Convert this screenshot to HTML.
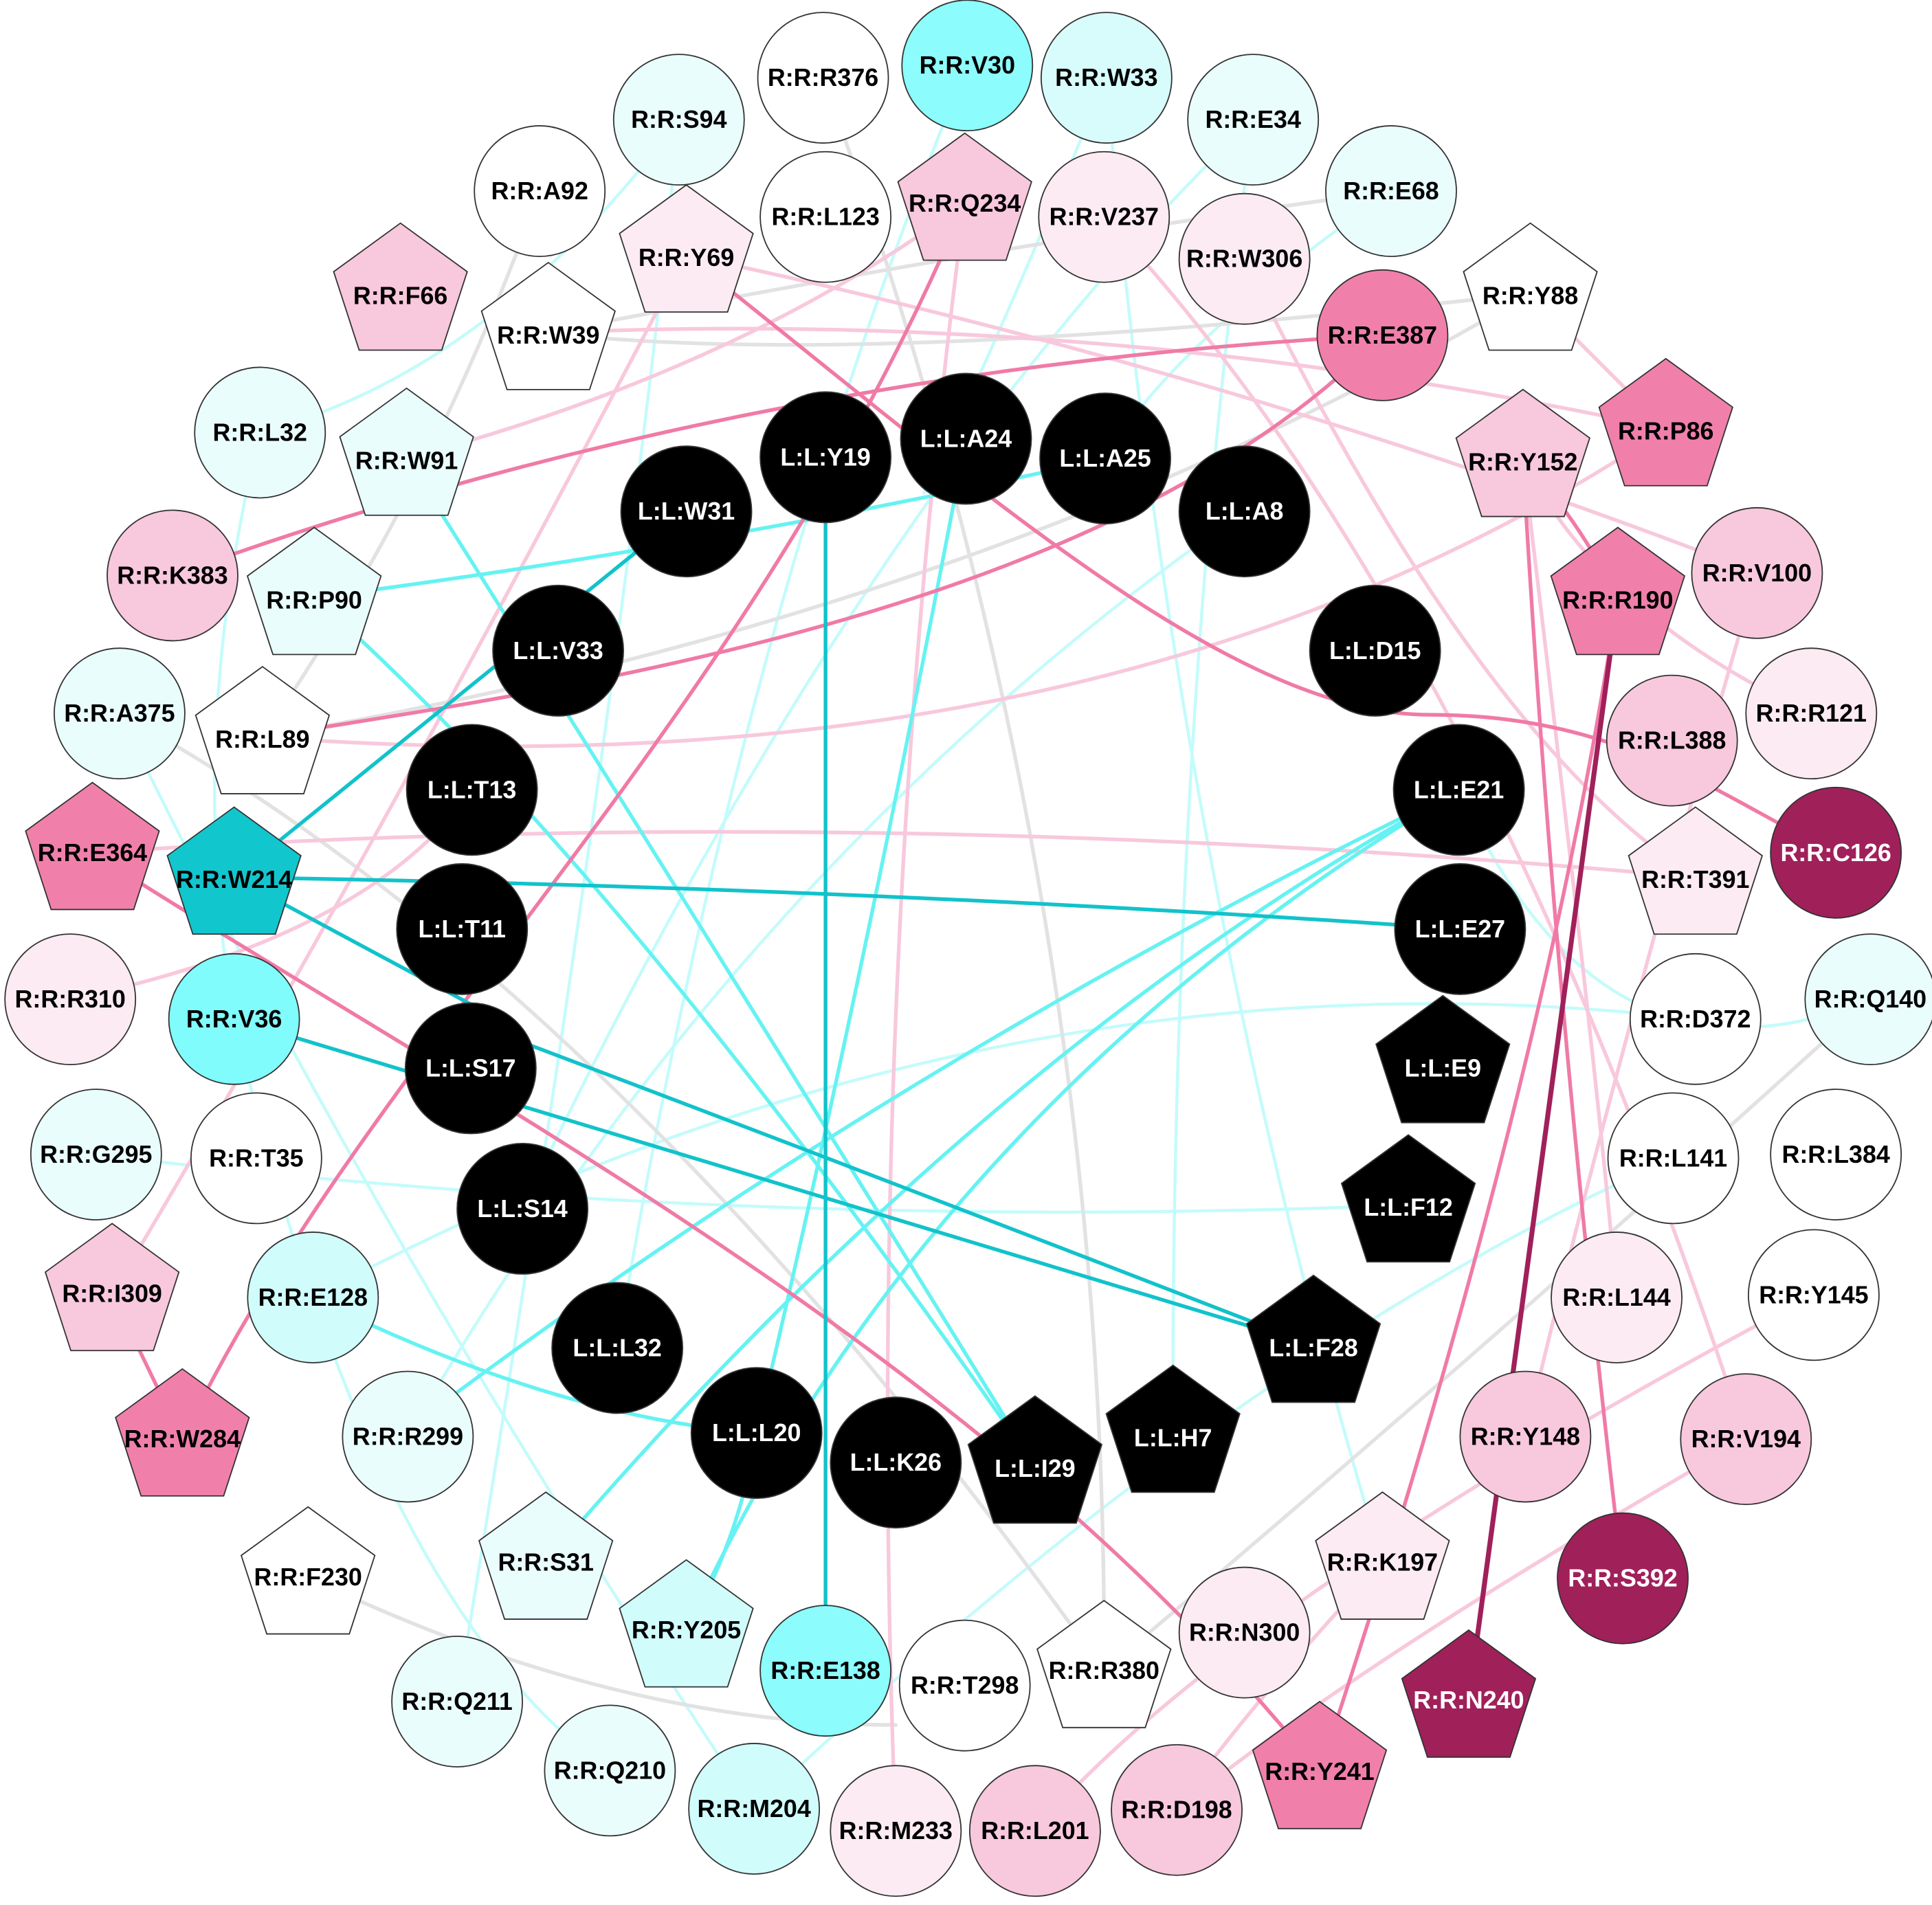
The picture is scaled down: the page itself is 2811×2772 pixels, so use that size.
<!DOCTYPE html>
<html><head><meta charset="utf-8"><style>
html,body{margin:0;padding:0;background:#fff;}
svg{display:block;}
text{font-family:"Liberation Sans",Arial,sans-serif;font-weight:bold;font-size:20px;text-anchor:middle;dominant-baseline:central;}
</style></head><body>
<svg width="2811" height="2772" viewBox="0 0 1568 1546" xmlns="http://www.w3.org/2000/svg">
<g fill="none" stroke-linecap="round">
<!-- light cyan -->
<g stroke="#c4fbfb" stroke-width="2.5">
<path d="M898 63 Q800 300 750 400"/>
<path d="M1017 97 Q950 600 952 1165"/>
<path d="M1129 155 Q950 280 897 372"/>
<path d="M551 97 Q400 300 211 351"/>
<path d="M211 351 Q150 600 190 827"/>
<path d="M785 53 Q600 500 501 1094"/>
<path d="M551 97 Q500 600 371 1381"/>
<path d="M898 63 Q950 700 1122 1268"/>
<path d="M1518 811 Q1300 900 1184 641"/>
<path d="M78 937 Q600 1000 1143 978"/>
<path d="M1357 940 Q1000 1100 612 1468"/>
<path d="M495 1437 Q300 1300 190 827"/>
<path d="M331 1166 Q600 700 1010 415"/>
<path d="M1376 827 Q800 760 254 1053"/>
<path d="M97 579 Q300 1000 612 1468"/>
<path d="M1017 97 Q700 400 424 981"/>
</g>
<!-- gray -->
<g stroke="#e2e2e2" stroke-width="3">
<path d="M668 63 Q900 700 896 1356"/>
<path d="M438 155 Q350 400 213 598"/>
<path d="M1242 238 Q700 300 445 270"/>
<path d="M1129 155 Q800 200 445 270"/>
<path d="M1518 811 Q1200 1100 896 1356"/>
<path d="M250 1280 Q500 1400 727 1400"/>
<path d="M97 579 Q500 800 896 1356"/>
<path d="M1242 238 Q800 500 213 598"/>
</g>
<!-- light pink -->
<g stroke="#f8c8dc" stroke-width="3">
<path d="M557 207 Q1000 300 1426 465"/>
<path d="M783 165 Q600 300 330 372"/>
<path d="M783 165 Q700 800 727 1486"/>
<path d="M896 176 Q1200 500 1417 1168"/>
<path d="M1236 373 Q1300 900 1312 1053"/>
<path d="M1426 465 Q1300 900 1238 1166"/>
<path d="M1472 1051 Q1000 1300 840 1486"/>
<path d="M1417 1168 Q1100 1350 955 1469"/>
<path d="M1122 1268 Q1000 1400 955 1469"/>
<path d="M1352 348 Q900 650 213 598"/>
<path d="M445 270 Q900 250 1352 348"/>
<path d="M1376 712 Q700 650 75 692"/>
<path d="M1010 210 Q1200 600 1376 712"/>
<path d="M1242 238 L1352 348"/>
<path d="M91 1050 Q300 700 557 207"/>
<path d="M57 811 Q300 760 383 641"/>
<path d="M1470 579 Q1300 500 1236 373"/>
</g>
<!-- medium cyan -->
<g stroke="#66f2f2" stroke-width="3">
<path d="M897 372 Q600 440 255 485"/>
<path d="M784 356 Q700 800 614 1163"/>
<path d="M330 372 Q600 800 840 1190"/>
<path d="M255 485 Q500 700 840 1190"/>
<path d="M1184 641 Q800 850 443 1268"/>
<path d="M1184 641 Q750 900 557 1323"/>
<path d="M1184 641 Q750 850 371 1130"/>
<path d="M254 1053 Q450 1150 614 1163"/>
<path d="M557 1323 Q600 1250 614 1163"/>
</g>
<!-- pink -->
<g stroke="#f07aa6" stroke-width="3">
<path d="M1122 272 Q600 300 140 467"/>
<path d="M1122 272 C 900 500 450 560 213 598"/>
<path d="M557 207 C 800 400 1000 580 1160 580 S 1400 650 1490 692"/>
<path d="M148 1168 C 300 850 600 600 783 165"/>
<path d="M75 692 C 400 900 800 1100 1071 1438"/>
<path d="M1236 373 Q1260 800 1317 1281"/>
<path d="M1236 373 Q1280 420 1313 485"/>
<path d="M1313 485 Q1250 900 1071 1438"/>
<path d="M91 1050 L148 1168"/>
</g>
<path d="M1313 485 L1192 1380" stroke="#a0205a" stroke-width="4"/>
<!-- dark cyan -->
<g stroke="#12c2ca" stroke-width="3">
<path d="M670 371 L670 1356"/>
<path d="M190 712 Q700 720 1185 754"/>
<path d="M190 712 L557 415"/>
<path d="M190 712 L382 815"/>
<path d="M190 827 Q600 950 1066 1092"/>
<path d="M382 830 Q700 950 1066 1092"/>
</g>
</g>

<g stroke="#333" stroke-width="1">
<!-- circles -->
<circle cx="785" cy="53" r="53" fill="#8cfcfc"/>
<circle cx="668" cy="63" r="53" fill="#fff"/>
<circle cx="898" cy="63" r="53" fill="#d8fbfb"/>
<circle cx="551" cy="97" r="53" fill="#eafdfd"/>
<circle cx="1017" cy="97" r="53" fill="#eafdfd"/>
<circle cx="438" cy="155" r="53" fill="#fff"/>
<circle cx="670" cy="176" r="53" fill="#fff"/>
<circle cx="896" cy="176" r="53" fill="#fcebf2"/>
<circle cx="1129" cy="155" r="53" fill="#eafdfd"/>
<circle cx="1010" cy="210" r="53" fill="#fcebf2"/>
<circle cx="1122" cy="272" r="53" fill="#f080aa"/>
<circle cx="211" cy="351" r="53" fill="#eafdfd"/>
<circle cx="140" cy="467" r="53" fill="#f8c8dc"/>
<circle cx="1426" cy="465" r="53" fill="#f8c8dc"/>
<circle cx="97" cy="579" r="53" fill="#eafdfd"/>
<circle cx="1470" cy="579" r="53" fill="#fcebf2"/>
<circle cx="1357" cy="601" r="53" fill="#f8c8dc"/>
<circle cx="1490" cy="692" r="53" fill="#a0205a"/>
<circle cx="57" cy="811" r="53" fill="#fcebf2"/>
<circle cx="190" cy="827" r="53" fill="#80fcfc"/>
<circle cx="1376" cy="827" r="53" fill="#fff"/>
<circle cx="1518" cy="811" r="53" fill="#eafdfd"/>
<circle cx="78" cy="937" r="53" fill="#eafdfd"/>
<circle cx="208" cy="940" r="53" fill="#fff"/>
<circle cx="1358" cy="940" r="53" fill="#fff"/>
<circle cx="1490" cy="937" r="53" fill="#fff"/>
<circle cx="254" cy="1053" r="53" fill="#d0fcfc"/>
<circle cx="1312" cy="1053" r="53" fill="#fcebf2"/>
<circle cx="1472" cy="1051" r="53" fill="#fff"/>
<circle cx="331" cy="1166" r="53" fill="#eafdfd"/>
<circle cx="1238" cy="1166" r="53" fill="#f8c8dc"/>
<circle cx="1417" cy="1168" r="53" fill="#f8c8dc"/>
<circle cx="1317" cy="1281" r="53" fill="#a0205a"/>
<circle cx="1010" cy="1325" r="53" fill="#fcebf2"/>
<circle cx="371" cy="1381" r="53" fill="#eafdfd"/>
<circle cx="670" cy="1356" r="53" fill="#8cfcfc"/>
<circle cx="783" cy="1368" r="53" fill="#fff"/>
<circle cx="495" cy="1437" r="53" fill="#eafdfd"/>
<circle cx="612" cy="1468" r="53" fill="#d0fcfc"/>
<circle cx="727" cy="1486" r="53" fill="#fcebf2"/>
<circle cx="840" cy="1486" r="53" fill="#f8c8dc"/>
<circle cx="955" cy="1469" r="53" fill="#f8c8dc"/>
<!-- ligand circles -->
<g fill="#000">
<circle cx="670" cy="371" r="53"/><circle cx="784" cy="356" r="53"/><circle cx="897" cy="372" r="53"/>
<circle cx="557" cy="415" r="53"/><circle cx="1010" cy="415" r="53"/><circle cx="453" cy="528" r="53"/>
<circle cx="1116" cy="528" r="53"/><circle cx="383" cy="641" r="53"/><circle cx="1184" cy="641" r="53"/>
<circle cx="375" cy="754" r="53"/><circle cx="1185" cy="754" r="53"/><circle cx="382" cy="867" r="53"/>
<circle cx="424" cy="981" r="53"/><circle cx="501" cy="1094" r="53"/><circle cx="614" cy="1163" r="53"/>
<circle cx="727" cy="1187" r="53"/>
</g>
</g>

<g stroke="#333" stroke-width="1">
<!-- pentagon r=57: points offsets (0,-57)(54.2,-17.6)(33.5,46.1)(-33.5,46.1)(-54.2,-17.6) -->
<polygon fill="#f8c8dc" points="783,108 837.2,147.4 816.5,211.1 749.5,211.1 728.8,147.4"/>
<polygon fill="#fcebf2" points="557,150 611.2,189.4 590.5,253.1 523.5,253.1 502.8,189.4"/>
<polygon fill="#f8c8dc" points="325,181 379.2,220.4 358.5,284.1 291.5,284.1 270.8,220.4"/>
<polygon fill="#fff" points="445,213 499.2,252.4 478.5,316.1 411.5,316.1 390.8,252.4"/>
<polygon fill="#fff" points="1242,181 1296.2,220.4 1275.5,284.1 1208.5,284.1 1187.8,220.4"/>
<polygon fill="#f080aa" points="1352,291 1406.2,330.4 1385.5,394.1 1318.5,394.1 1297.8,330.4"/>
<polygon fill="#eafdfd" points="330,315 384.2,354.4 363.5,418.1 296.5,418.1 275.8,354.4"/>
<polygon fill="#f8c8dc" points="1236,316 1290.2,355.4 1269.5,419.1 1202.5,419.1 1181.8,355.4"/>
<polygon fill="#eafdfd" points="255,428 309.2,467.4 288.5,531.1 221.5,531.1 200.8,467.4"/>
<polygon fill="#f080aa" points="1313,428 1367.2,467.4 1346.5,531.1 1279.5,531.1 1258.8,467.4"/>
<polygon fill="#fff" points="213,541 267.2,580.4 246.5,644.1 179.5,644.1 158.8,580.4"/>
<polygon fill="#f080aa" points="75,635 129.2,674.4 108.5,738.1 41.5,738.1 20.8,674.4"/>
<polygon fill="#12c6ce" points="190,655 244.2,694.4 223.5,758.1 156.5,758.1 135.8,694.4"/>
<polygon fill="#fcebf2" points="1376,655 1430.2,694.4 1409.5,758.1 1342.5,758.1 1321.8,694.4"/>
<polygon fill="#000" points="1171,808 1225.2,847.4 1204.5,911.1 1137.5,911.1 1116.8,847.4"/>
<polygon fill="#000" points="1143,921 1197.2,960.4 1176.5,1024.1 1109.5,1024.1 1088.8,960.4"/>
<polygon fill="#f8c8dc" points="91,993 145.2,1032.4 124.5,1096.1 57.5,1096.1 36.8,1032.4"/>
<polygon fill="#000" points="1066,1035 1120.2,1074.4 1099.5,1138.1 1032.5,1138.1 1011.8,1074.4"/>
<polygon fill="#000" points="952,1108 1006.2,1147.4 985.5,1211.1 918.5,1211.1 897.8,1147.4"/>
<polygon fill="#000" points="840,1133 894.2,1172.4 873.5,1236.1 806.5,1236.1 785.8,1172.4"/>
<polygon fill="#f080aa" points="148,1111 202.2,1150.4 181.5,1214.1 114.5,1214.1 93.8,1150.4"/>
<polygon fill="#fff" points="250,1223 304.2,1262.4 283.5,1326.1 216.5,1326.1 195.8,1262.4"/>
<polygon fill="#eafdfd" points="443,1211 497.2,1250.4 476.5,1314.1 409.5,1314.1 388.8,1250.4"/>
<polygon fill="#fcebf2" points="1122,1211 1176.2,1250.4 1155.5,1314.1 1088.5,1314.1 1067.8,1250.4"/>
<polygon fill="#d0fcfc" points="557,1266 611.2,1305.4 590.5,1369.1 523.5,1369.1 502.8,1305.4"/>
<polygon fill="#fff" points="896,1299 950.2,1338.4 929.5,1402.1 862.5,1402.1 841.8,1338.4"/>
<polygon fill="#a0205a" points="1192,1323 1246.2,1362.4 1225.5,1426.1 1158.5,1426.1 1137.8,1362.4"/>
<polygon fill="#f080aa" points="1071,1381 1125.2,1420.4 1104.5,1484.1 1037.5,1484.1 1016.8,1420.4"/>
</g>

<g fill="#000">
<text x="785" y="53">R:R:V30</text><text x="668" y="63">R:R:R376</text><text x="898" y="63">R:R:W33</text>
<text x="551" y="97">R:R:S94</text><text x="1017" y="97">R:R:E34</text><text x="438" y="155">R:R:A92</text>
<text x="670" y="176">R:R:L123</text><text x="896" y="176">R:R:V237</text><text x="1129" y="155">R:R:E68</text>
<text x="1010" y="210">R:R:W306</text><text x="1122" y="272">R:R:E387</text><text x="211" y="351">R:R:L32</text>
<text x="140" y="467">R:R:K383</text><text x="1426" y="465">R:R:V100</text><text x="97" y="579">R:R:A375</text>
<text x="1470" y="579">R:R:R121</text><text x="1357" y="601">R:R:L388</text>
<text x="57" y="811">R:R:R310</text><text x="190" y="827">R:R:V36</text><text x="1376" y="827">R:R:D372</text>
<text x="1518" y="811">R:R:Q140</text><text x="78" y="937">R:R:G295</text><text x="208" y="940">R:R:T35</text>
<text x="1358" y="940">R:R:L141</text><text x="1490" y="937">R:R:L384</text><text x="254" y="1053">R:R:E128</text>
<text x="1312" y="1053">R:R:L144</text><text x="1472" y="1051">R:R:Y145</text><text x="331" y="1166">R:R:R299</text>
<text x="1238" y="1166">R:R:Y148</text><text x="1417" y="1168">R:R:V194</text>
<text x="1010" y="1325">R:R:N300</text><text x="371" y="1381">R:R:Q211</text><text x="670" y="1356">R:R:E138</text>
<text x="783" y="1368">R:R:T298</text><text x="495" y="1437">R:R:Q210</text><text x="612" y="1468">R:R:M204</text>
<text x="727" y="1486">R:R:M233</text><text x="840" y="1486">R:R:L201</text><text x="955" y="1469">R:R:D198</text>
<text x="783" y="165">R:R:Q234</text><text x="557" y="209">R:R:Y69</text><text x="325" y="240">R:R:F66</text>
<text x="445" y="272">R:R:W39</text><text x="1242" y="240">R:R:Y88</text><text x="1352" y="350">R:R:P86</text>
<text x="330" y="374">R:R:W91</text><text x="1236" y="375">R:R:Y152</text><text x="255" y="487">R:R:P90</text>
<text x="1313" y="487">R:R:R190</text><text x="213" y="600">R:R:L89</text><text x="75" y="692">R:R:E364</text>
<text x="190" y="714">R:R:W214</text><text x="1376" y="714">R:R:T391</text><text x="91" y="1050">R:R:I309</text>
<text x="148" y="1168">R:R:W284</text><text x="250" y="1280">R:R:F230</text><text x="443" y="1268">R:R:S31</text>
<text x="1122" y="1268">R:R:K197</text><text x="557" y="1323">R:R:Y205</text><text x="896" y="1356">R:R:R380</text>
<text x="1071" y="1438">R:R:Y241</text>
</g>
<g fill="#fff">
<text x="1490" y="692">R:R:C126</text><text x="1317" y="1281">R:R:S392</text><text x="1192" y="1380">R:R:N240</text>
<text x="670" y="371">L:L:Y19</text><text x="784" y="356">L:L:A24</text><text x="897" y="372">L:L:A25</text>
<text x="557" y="415">L:L:W31</text><text x="1010" y="415">L:L:A8</text><text x="453" y="528">L:L:V33</text>
<text x="1116" y="528">L:L:D15</text><text x="383" y="641">L:L:T13</text><text x="1184" y="641">L:L:E21</text>
<text x="375" y="754">L:L:T11</text><text x="1185" y="754">L:L:E27</text><text x="382" y="867">L:L:S17</text>
<text x="424" y="981">L:L:S14</text><text x="501" y="1094">L:L:L32</text><text x="614" y="1163">L:L:L20</text>
<text x="727" y="1187">L:L:K26</text><text x="1171" y="867">L:L:E9</text><text x="1143" y="980">L:L:F12</text>
<text x="1066" y="1094">L:L:F28</text><text x="952" y="1167">L:L:H7</text><text x="840" y="1192">L:L:I29</text>
</g>
</svg>
</body></html>
